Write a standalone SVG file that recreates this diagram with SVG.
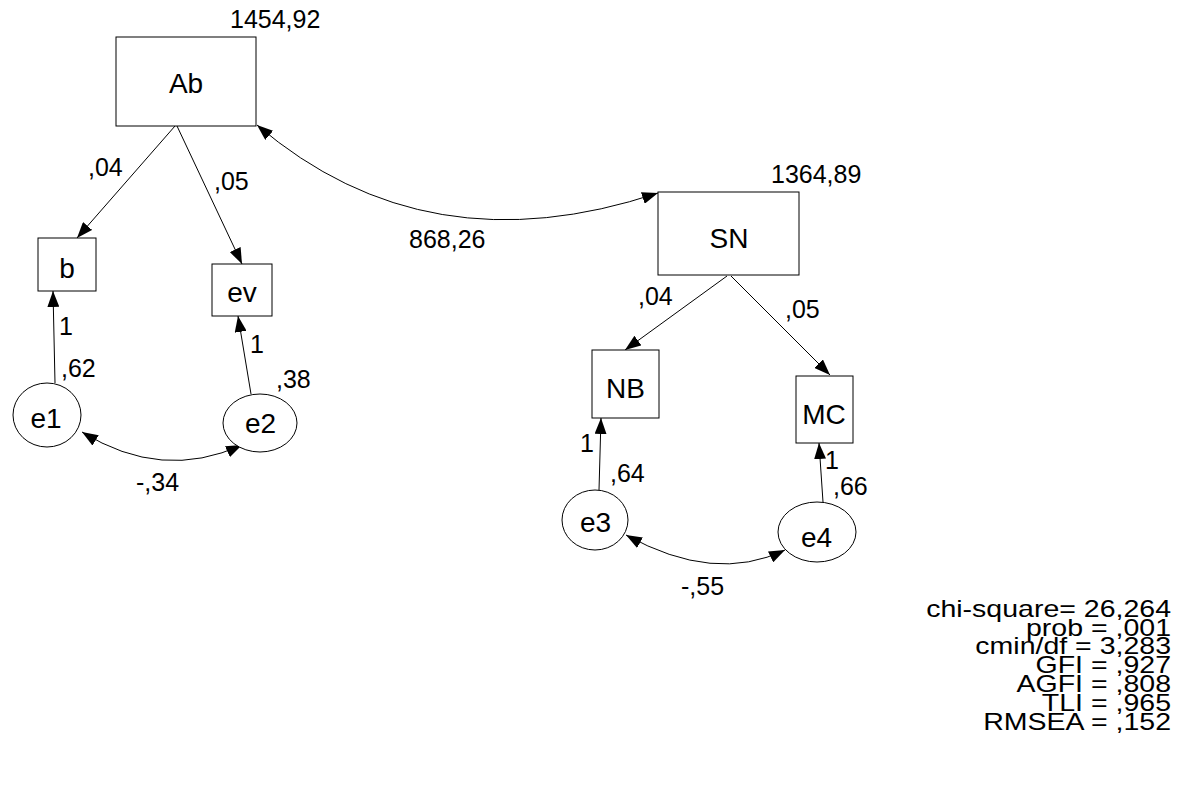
<svg xmlns="http://www.w3.org/2000/svg" width="1185" height="796" viewBox="0 0 1185 796">
<style>
.box{fill:#fff;stroke:#000;stroke-width:1}
.nl{font-family:"Liberation Sans",Arial,sans-serif;font-size:28px;fill:#000;text-anchor:middle}
.el{font-family:"Liberation Sans",Arial,sans-serif;font-size:25px;fill:#000}
.st{font-family:"Liberation Sans",Arial,sans-serif;font-size:23px;fill:#000;text-anchor:end}
.ed{fill:none;stroke:#000;stroke-width:1}
</style>
<defs>
<marker id="ah" viewBox="0 0 16 12" refX="16" refY="6" markerWidth="16" markerHeight="12" markerUnits="userSpaceOnUse" orient="auto-start-reverse">
<path d="M0,0 L16,6 L0,12 Z" fill="#000"/>
</marker>
</defs>
<rect width="1185" height="796" fill="#fff"/>
<g id="connectors">
<path class="ed" d="M175,126 L77,238" marker-end="url(#ah)"/>
<path class="ed" d="M177,126 L242,264" marker-end="url(#ah)"/>
<path class="ed" d="M55,383 L53,291" marker-end="url(#ah)"/>
<path class="ed" d="M251,394 L238,316" marker-end="url(#ah)"/>
<path class="ed" d="M82,432 Q162,481.5 242,445" marker-start="url(#ah)" marker-end="url(#ah)"/>
<path class="ed" d="M257,125 Q427,270 658,193" marker-start="url(#ah)" marker-end="url(#ah)"/>
<path class="ed" d="M727,276 L625,350" marker-end="url(#ah)"/>
<path class="ed" d="M731,276 L830,375" marker-end="url(#ah)"/>
<path class="ed" d="M599,490 L601,418" marker-end="url(#ah)"/>
<path class="ed" d="M823,502 L819,443" marker-end="url(#ah)"/>
<path class="ed" d="M626,535 Q714.5,584 785,550" marker-start="url(#ah)" marker-end="url(#ah)"/>
</g>
<g id="edge-labels">
<text class="el" x="88" y="176">,04</text>
<text class="el" x="214" y="190">,05</text>
<text class="el" x="59" y="335">1</text>
<text class="el" x="61" y="377">,62</text>
<text class="el" x="250" y="353">1</text>
<text class="el" x="276" y="388">,38</text>
<text class="el" x="136" y="491">-,34</text>
<text class="el" x="409" y="248">868,26</text>
<text class="el" x="638" y="305">,04</text>
<text class="el" x="785" y="318">,05</text>
<text class="el" x="580" y="452">1</text>
<text class="el" x="610" y="482">,64</text>
<text class="el" x="825" y="469">1</text>
<text class="el" x="833" y="495">,66</text>
<text class="el" x="681" y="595">-,55</text>
</g>
<g id="node-Ab">
<rect class="box" x="116" y="37" width="140" height="89"/>
<text class="nl" x="186" y="93">Ab</text>
<text class="el" x="230" y="28">1454,92</text>
</g>
<g id="node-SN">
<rect class="box" x="658" y="192" width="141" height="83"/>
<text class="nl" x="729" y="248">SN</text>
<text class="el" x="771" y="183">1364,89</text>
</g>
<g id="node-b">
<rect class="box" x="38" y="238" width="58" height="53"/>
<text class="nl" x="67" y="278">b</text>
</g>
<g id="node-ev">
<rect class="box" x="212" y="264" width="60" height="52"/>
<text class="nl" x="242" y="302">ev</text>
</g>
<g id="node-NB">
<rect class="box" x="592" y="350" width="67" height="68"/>
<text class="nl" x="625.5" y="398">NB</text>
</g>
<g id="node-MC">
<rect class="box" x="796" y="376" width="57" height="67"/>
<text class="nl" x="824" y="424">MC</text>
</g>
<g id="node-e1">
<ellipse class="box" cx="47" cy="415" rx="34" ry="32"/>
<text class="nl" x="46" y="428">e1</text>
</g>
<g id="node-e2">
<ellipse class="box" cx="260" cy="423" rx="37" ry="29"/>
<text class="nl" x="260.5" y="433">e2</text>
</g>
<g id="node-e3">
<ellipse class="box" cx="595" cy="520" rx="33" ry="30"/>
<text class="nl" x="595.5" y="532">e3</text>
</g>
<g id="node-e4">
<ellipse class="box" cx="817" cy="532" rx="39" ry="30"/>
<text class="nl" x="816.5" y="547">e4</text>
</g>
<g id="fit-stats" transform="translate(1171 0) scale(1.24 1)">
<text class="st" x="0" y="617">chi-square= 26,264</text>
<text class="st" x="0" y="636">prob = ,001</text>
<text class="st" x="0" y="654">cmin/df = 3,283</text>
<text class="st" x="0" y="673">GFI = ,927</text>
<text class="st" x="0" y="692">AGFI = ,808</text>
<text class="st" x="0" y="711">TLI = ,965</text>
<text class="st" x="0" y="730">RMSEA = ,152</text>
</g>
</svg>
